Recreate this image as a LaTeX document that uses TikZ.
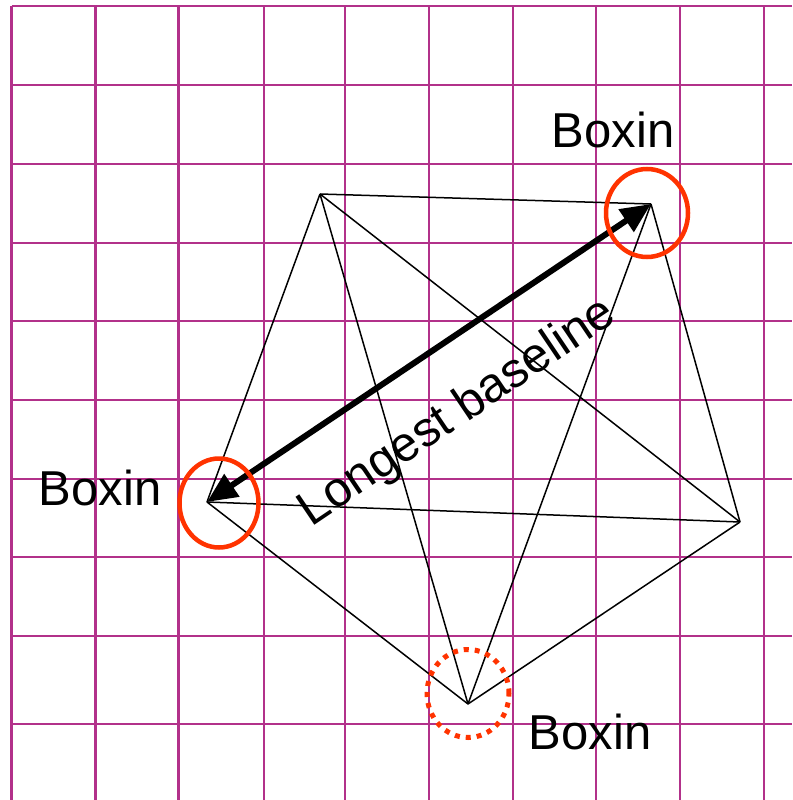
\documentclass[tikz,border=0pt]{standalone}
\usepackage{fontspec}
\setmainfont{Liberation Sans}
\usetikzlibrary{arrows.meta}
\definecolor{gridc}{RGB}{178,49,138}
\definecolor{boxc}{RGB}{255,51,0}
\begin{document}
\begin{tikzpicture}[x=1pt,y=-1pt,
  gridline/.style={draw=gridc,line width=2.6pt},
  edge/.style={draw=black,line width=1.5pt},
  baseline arrow/.style={draw=black,line width=6pt,{Triangle[length=30pt,width=26pt]}-{Triangle[length=30pt,width=26pt]}},
  boxring/.style={draw=boxc,line width=4.5pt},
  boxdots/.style={draw=boxc,line width=5pt,dash pattern=on 5pt off 6pt},
  lbl/.style={inner sep=0pt,font=\fontsize{49}{58}\selectfont}]
\useasboundingbox (0,0) rectangle (792,800);
\fill[white] (0,0) rectangle (792,800);
\foreach \x in {11.5,95.5,178.5,264,345,429,513,596,680,764}
  \draw[gridline] (\x,6) -- (\x,800);
\foreach \y in {6,85,164,243,321,400,479,557,636,724}
  \draw[gridline] (11.5,\y) -- (792,\y);
\coordinate (A) at (320,194);
\coordinate (B) at (651,204);
\coordinate (C) at (740,522);
\coordinate (D) at (468,704);
\coordinate (E) at (207,502);
\draw[edge] (A) -- (B);
\draw[edge] (A) -- (C);
\draw[edge] (A) -- (D);
\draw[edge] (A) -- (E);
\draw[edge] (B) -- (C);
\draw[edge] (B) -- (D);
\draw[edge] (C) -- (D);
\draw[edge] (C) -- (E);
\draw[edge] (D) -- (E);
\draw[baseline arrow] (B) -- (E);
\draw[boxring] (219,503) ellipse [x radius=39.5pt,y radius=44.5pt];
\draw[boxring] (647,213) ellipse [x radius=41pt,y radius=44pt];
\draw[boxdots] (468,693.5) ellipse [x radius=41pt,y radius=44pt];
\node[lbl,anchor=base] (bt) at (613,147) {Boxin};
\node[lbl,anchor=base] (bl) at (100,505) {Boxin};
\node[lbl,anchor=base] (bb) at (590,749) {Boxin};
\node[lbl,rotate=34] (lb) at (458,413) {Longest baseline};
\end{tikzpicture}
\end{document}
